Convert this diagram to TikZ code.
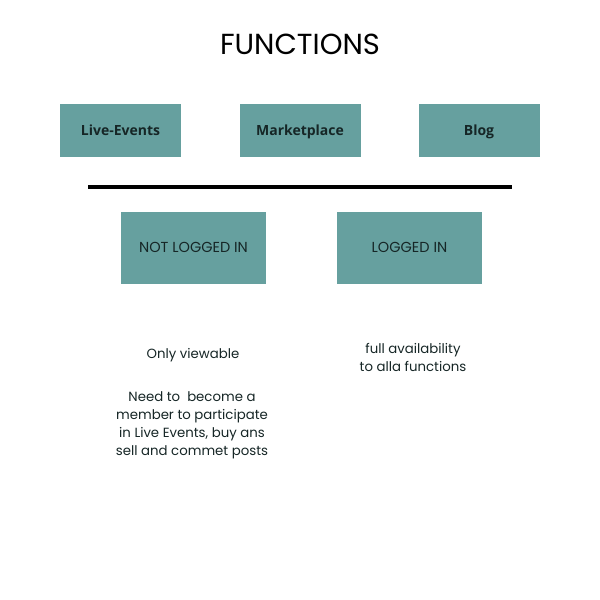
\documentclass[tikz,border=0pt]{standalone}
\usepackage{fontspec}
\setmainfont{Poppins}
\newfontfamily\boxfont{Open Sans}
\definecolor{tealbox}{RGB}{102,160,159}
\definecolor{inktext}{RGB}{22,38,38}
\begin{document}
\begin{tikzpicture}[x=1pt,y=-1pt,
  catbox/.style={rectangle, fill=tealbox, minimum width=121pt, minimum height=53pt,
    inner sep=0pt, text height=12pt, text depth=2pt,
    font=\boxfont\bfseries\fontsize{14}{16}\selectfont, text=inktext},
  statebox/.style={rectangle, fill=tealbox, minimum width=145pt, minimum height=72pt,
    inner sep=0pt, text height=11pt, text depth=3pt,
    font=\fontsize{14.5}{16}\selectfont, text=inktext},
  note/.style={align=center, inner sep=0pt, font=\fontsize{13.3}{18}\selectfont, text=inktext}]
  \useasboundingbox[fill=white] (0,0) rectangle (600,600);

  % heading
  \node[font=\fontsize{29}{32}\selectfont] (title) at (300,44) {FUNCTIONS};

  % the three sections of the site
  \node[catbox] (live)   at (120.5,130) {Live-Events};
  \node[catbox] (market) at (300,130)   {Marketplace};
  \node[catbox] (blog)   at (479,130)   {Blog};

  % separator
  \coordinate (sepL) at (88,187);
  \coordinate (sepR) at (512,187);
  \draw[line width=3.5pt] (sepL) -- (sepR);

  % visitor states
  \node[statebox] (out) at (193.5,248.3) {NOT LOGGED IN};
  \node[statebox] (in)  at (409.5,248.3) {LOGGED IN};

  % descriptions
  \node[note] (view)   at (193,355.5) {Only viewable};
  \node[note] (member) at (192,425.5) {Need to\ \ become a\\member to participate\\in Live Events, buy ans\\sell and commet posts};
  \node[note] (full)   at (413,357) {full availability\\to alla functions};
\end{tikzpicture}
\end{document}
